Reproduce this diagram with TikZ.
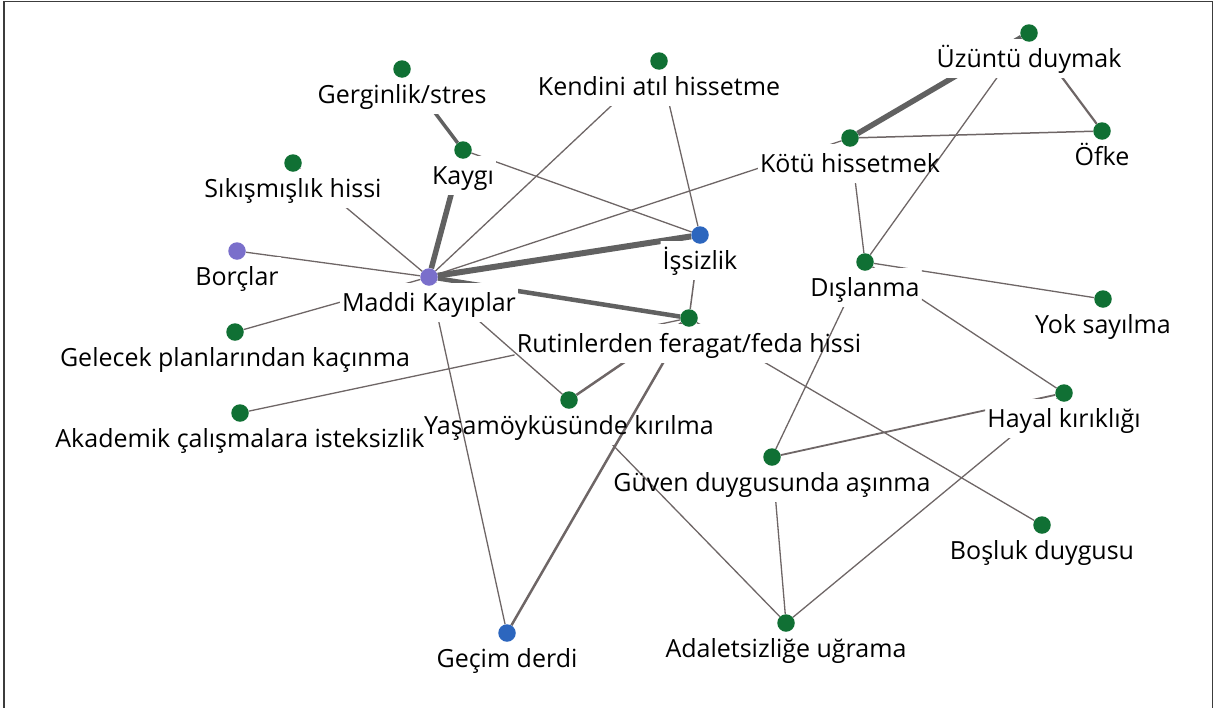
\documentclass[tikz,border=0pt]{standalone}
\usepackage{fontspec}
\setmainfont{Open Sans}
\pgfdeclarelayer{background}
\pgfsetlayers{background,main}
\definecolor{dgreen}{RGB}{16,112,52}
\definecolor{dpurple}{RGB}{122,111,203}
\definecolor{dblue}{RGB}{44,102,190}
\definecolor{edgec}{RGB}{110,102,102}
\definecolor{framec}{RGB}{60,60,60}
\tikzset{
  dot/.style={circle,inner sep=0pt,minimum size=17.5pt,draw=none},
  lab/.style={anchor=base,inner xsep=2pt,inner ysep=5pt,text height=23pt,text depth=6pt,
              font=\fontsize{25}{29}\selectfont,text=black},
  edge/.style={draw=edgec,line width=1.3pt},
  heavy/.style={draw=black!62,line width=#1},
}
\newcommand\gnode[5]{%
  \node[dot,fill=#4] (d#1) at (#2,#3) {};
  \node[lab] (l#1) at (#2,#3+34) {#5};}
\newcommand\lnk[3][]{%
  \begin{scope}[even odd rule]
    \clip (-50,-50) -- (1300,-50) -- (1300,800) -- (-50,800) -- cycle
          (l#2.south west) -- (l#2.south east) -- (l#2.north east) -- (l#2.north west) -- cycle;
    \begin{scope}[even odd rule]
      \clip (-50,-50) -- (1300,-50) -- (1300,800) -- (-50,800) -- cycle
            (l#3.south west) -- (l#3.south east) -- (l#3.north east) -- (l#3.north west) -- cycle;
      \draw[edge,#1] (d#2) -- (d#3);
    \end{scope}
  \end{scope}}
\begin{document}
\begin{tikzpicture}[x=1pt,y=-1pt]
\useasboundingbox (0,0) rectangle (1214,707);
\draw[framec,line width=1.5pt] (4,712) -- (4,1.5) -- (1212.5,1.5) -- (1212.5,712);
% nodes
\gnode{A}{402}{69}{dgreen}{Gerginlik/stres}
\gnode{B}{659}{61}{dgreen}{Kendini atıl hissetme}
\gnode{C}{463}{150}{dgreen}{Kaygı}
\gnode{D}{293}{163}{dgreen}{Sıkışmışlık hissi}
\gnode{E}{700}{235}{dblue}{İşsizlik}
\gnode{F}{237}{251}{dpurple}{Borçlar}
\gnode{G}{429}{277}{dpurple}{Maddi Kayıplar}
\gnode{H}{235}{332}{dgreen}{Gelecek planlarından kaçınma}
\gnode{I}{689}{318}{dgreen}{Rutinlerden feragat/feda hissi}
\gnode{J}{240}{413}{dgreen}{Akademik çalışmalara isteksizlik}
\gnode{K}{569}{400}{dgreen}{Yaşamöyküsünde kırılma}
\gnode{L}{507}{633}{dblue}{Geçim derdi}
\gnode{M}{1029}{33}{dgreen}{Üzüntü duymak}
\gnode{N}{850}{138}{dgreen}{Kötü hissetmek}
\gnode{O}{1102}{131}{dgreen}{Öfke}
\gnode{P}{865}{262}{dgreen}{Dışlanma}
\gnode{Q}{1103}{299}{dgreen}{Yok sayılma}
\gnode{R}{1064}{393}{dgreen}{Hayal kırıklığı}
\gnode{S}{772}{457}{dgreen}{Güven duygusunda aşınma}
\gnode{T}{1042}{525}{dgreen}{Boşluk duygusu}
\gnode{U}{786}{623}{dgreen}{Adaletsizliğe uğrama}
% edges
\begin{pgfonlayer}{background}
\lnk[heavy=3.5pt]{A}{C}
\lnk[heavy=5.5pt]{C}{G}
\lnk{D}{G}
\lnk{B}{G}
\lnk{B}{E}
\lnk{C}{E}
\lnk{N}{G}
\lnk[heavy=6pt]{G}{E}
\lnk{F}{G}
\lnk{G}{H}
\lnk[heavy=4.5pt]{G}{I}
\lnk[line width=1.5pt]{E}{I}
\lnk{G}{K}
\lnk{G}{L}
\lnk{I}{J}
\lnk[line width=2.5pt]{I}{K}
\lnk[line width=2.5pt]{I}{L}
\lnk{I}{T}
\lnk{K}{U}
\lnk{S}{U}
\lnk{R}{U}
\lnk[line width=1.8pt]{R}{S}
\lnk{P}{S}
\lnk{P}{R}
\lnk{P}{Q}
\lnk{N}{P}
\lnk{M}{P}
\lnk[heavy=5.5pt]{M}{N}
\lnk[line width=2.2pt]{M}{O}
\lnk[line width=1.5pt]{N}{O}
\end{pgfonlayer}
\end{tikzpicture}
\end{document}
